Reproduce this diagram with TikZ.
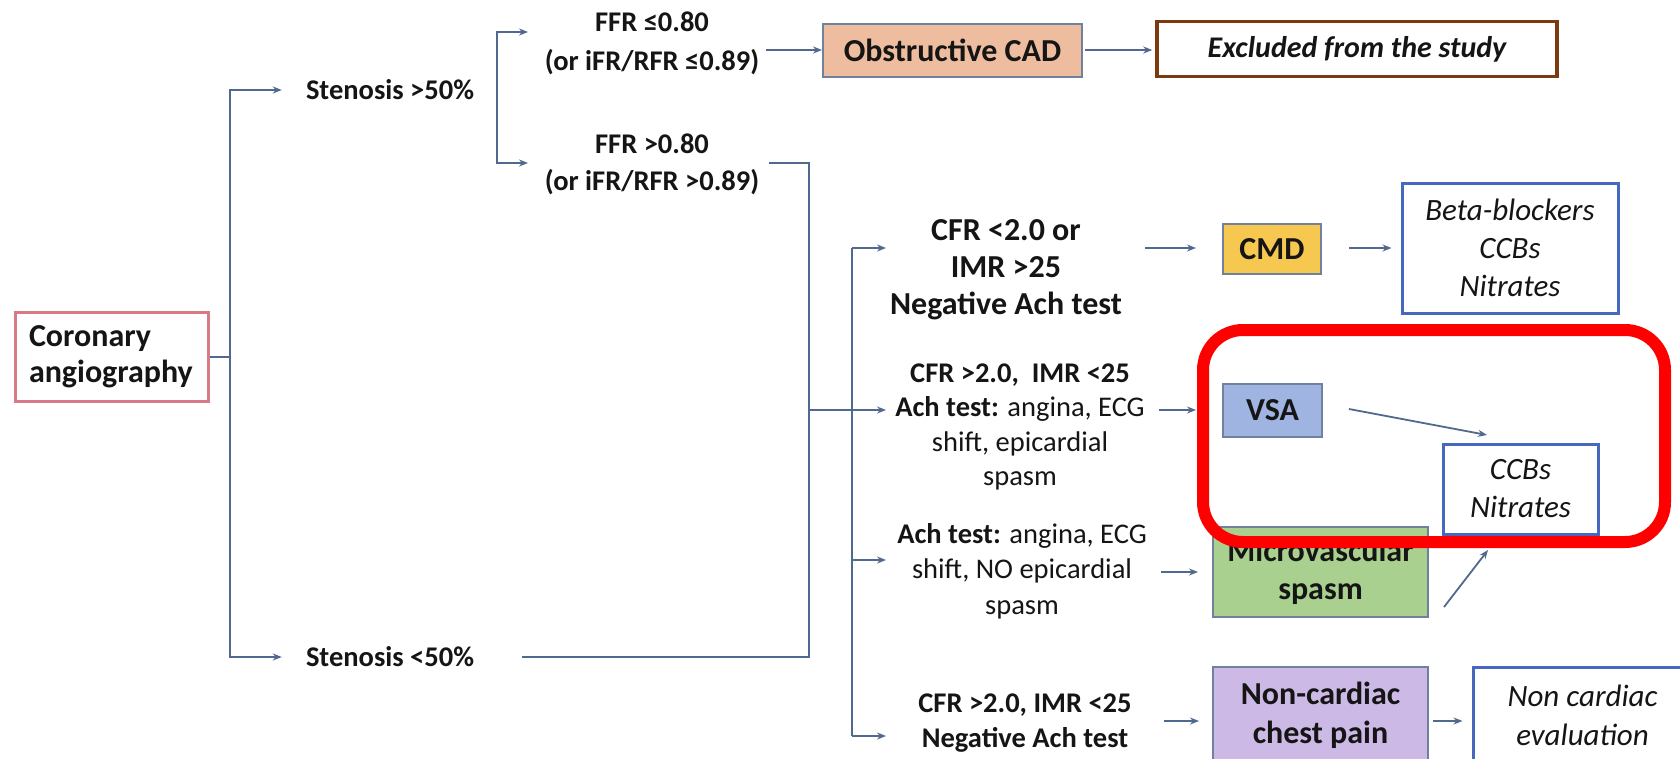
\documentclass[tikz,border=0pt]{standalone}
\usepackage{fontspec}
\setmainfont{Carlito}
\usetikzlibrary{arrows.meta}
\definecolor{conn}{HTML}{52698F}
\definecolor{boxgray}{HTML}{6F819F}
\definecolor{peach}{RGB}{238,189,160}
\definecolor{cmdyel}{RGB}{246,200,80}
\definecolor{vsablue}{RGB}{160,180,225}
\definecolor{mvgreen}{RGB}{169,208,142}
\definecolor{lav}{RGB}{205,185,230}
\definecolor{treatblue}{HTML}{4668C0}
\definecolor{brown}{HTML}{7B3A10}
\definecolor{pinkred}{HTML}{D87A86}
\definecolor{txt}{HTML}{151515}
\begin{document}
\begin{tikzpicture}[x=1pt,y=-1pt,
  cond/.style={font=\fontsize{28.5}{35}\selectfont\bfseries, align=center, inner sep=0pt, text=txt},
  condbig/.style={font=\fontsize{32}{37}\selectfont\bfseries, align=center, inner sep=0pt, text=txt},
  fillbox/.style={draw=boxgray, line width=2pt, font=\fontsize{32}{38}\selectfont\bfseries, align=center, inner sep=0pt, text=txt},
  treat/.style={draw=treatblue, line width=3pt, fill=white, font=\fontsize{31}{38}\selectfont\itshape, align=center, inner sep=0pt, text=txt},
  line/.style={draw=conn, line width=1.8pt},
  arr/.style={line, -{Stealth[length=9pt,width=7pt]}},
  highlight/.style={draw=red, line width=12pt, rounded corners=40pt}
]
\useasboundingbox (0,0) rectangle (1680,758);
\clip (0,0) rectangle (1680,758);
\fill[white] (0,0) rectangle (1680,758);

% boxes
\node[draw=pinkred, line width=3pt, text width=165pt, inner xsep=14pt, inner ysep=0pt,
      minimum height=89pt, align=left, font=\fontsize{32}{36}\selectfont\bfseries, text=txt]
      (cor) at (111.5,357) {Coronary\\angiography};

\node[cond] (s50a) at (390,90) {Stenosis >50\%};
\node[cond] (s50b) at (390,657) {Stenosis <50\%};
\node[cond, font=\fontsize{28.5}{39}\selectfont\bfseries] (ffr1) at (652,43) {FFR ≤0.80\\(or iFR/RFR ≤0.89)};
\node[cond, font=\fontsize{28.5}{37}\selectfont\bfseries] (ffr2) at (652,164) {FFR >0.80\\(or iFR/RFR >0.89)};

\node[fillbox, fill=peach, minimum width=259pt, minimum height=53pt] (ocad) at (952.5,50) {Obstructive CAD};
\node[draw=brown, line width=3.5pt, minimum width=400pt, minimum height=55pt, inner sep=0pt,
      font=\fontsize{30}{36}\selectfont\bfseries\itshape, text=txt] (excl) at (1357,49) {Excluded from the study};

\node[condbig] (c1) at (1006,270) {CFR <2.0 or\\IMR >25\\Negative Ach test};
\node[fillbox, fill=cmdyel, minimum width=98pt, minimum height=50pt] (cmd) at (1272,249) {CMD};
\node[treat, minimum width=216pt, minimum height=130pt] (beta) at (1510,248) {Beta-blockers\\CCBs\\Nitrates};

\node[cond, font=\fontsize{28.5}{34.3}\selectfont\bfseries] (c2) at (1020,427) {CFR >2.0,\ \ IMR <25\\Ach test: \mdseries angina, ECG\\\mdseries shift, epicardial\\\mdseries spasm};
\node[fillbox, fill=vsablue, minimum width=99pt, minimum height=53pt] (vsa) at (1272.5,410.5) {VSA};
\node[treat, minimum width=155pt, minimum height=90pt] (ccb) at (1520.5,489) {CCBs\\Nitrates};

\node[cond, font=\fontsize{28.5}{35.5}\selectfont\bfseries] (c3) at (1022,571) {Ach test: \mdseries angina, ECG\\\mdseries shift, NO epicardial\\\mdseries spasm};
\node[fillbox, fill=mvgreen, minimum width=215pt, minimum height=90pt] (mvs) at (1320.5,572) {Microvascular\\spasm};

\node[cond] (c4) at (1025,723) {CFR >2.0, IMR <25\\Negative Ach test};
\node[fillbox, fill=lav, minimum width=215pt, minimum height=96pt, font=\fontsize{32}{39}\selectfont\bfseries] (ncp) at (1320.5,715) {Non-cardiac\\chest pain};
\node[treat, minimum width=219pt, minimum height=96pt, font=\fontsize{31}{39}\selectfont\itshape] (eval) at (1582.5,715) {Non cardiac\\evaluation};

% junction coordinates
\coordinate (j1) at (230,357);
\coordinate (k1) at (497,32);
\coordinate (k2) at (497,163);
\coordinate (m1) at (769,163);
\coordinate (m2) at (809,163);
\coordinate (m3) at (809,657);
\coordinate (m4) at (522,657);
\coordinate (m5) at (809,410);
\coordinate (n0) at (852,410);
\coordinate (n1) at (852,248);
\coordinate (n3) at (852,560);
\coordinate (n4) at (852,736);

% connectors
\draw[line] (cor.east) -- (j1);
\draw[arr] (j1) |- ([xshift=-24pt]s50a.west |- 0,90);
\draw[arr] (j1) |- ([xshift=-24pt]s50b.west |- 0,657);
\draw[arr] (k2) -- (k1) -- (528,32);
\draw[arr] (k1) -- (k2) -- (528,163);
\draw[arr] (766,50) -- (ocad.west);
\draw[arr] ([xshift=2pt]ocad.east) -- ([xshift=-3pt]excl.west |- 0,50);
\draw[line] (m1) -- (m2) -- (m3) -- (m4);
\draw[line] (m5) -- (n0);
\draw[line] (n1) -- (n4);
\draw[arr] (n1) -- (886,248);
\draw[arr] (n0) -- (886,410);
\draw[arr] (n3) -- (886,560);
\draw[arr] (n4) -- (886,736);
\draw[arr] (1145,248) -- ([xshift=-26pt]cmd.west |- 0,248);
\draw[arr] ([xshift=27pt]cmd.east |- 0,248) -- ([xshift=-9pt]beta.west);
\draw[arr] (1159,410) -- ([xshift=-26pt]vsa.west |- 0,410);
\draw[arr] ([xshift=26pt]vsa.east |- 0,409) -- (1487,435);
\draw[arr] (1161,572) -- ([xshift=-14pt]mvs.west);
\draw[arr] (1444,607) -- (1488,550);
\draw[arr] (1164,721) -- ([xshift=-13pt]ncp.west |- 0,721);
\draw[arr] ([xshift=4pt]ncp.east |- 0,721) -- ([xshift=-9pt]eval.west |- 0,721);

% highlight
\draw[highlight] (1203,330) rectangle (1665,542);
\end{tikzpicture}
\end{document}
